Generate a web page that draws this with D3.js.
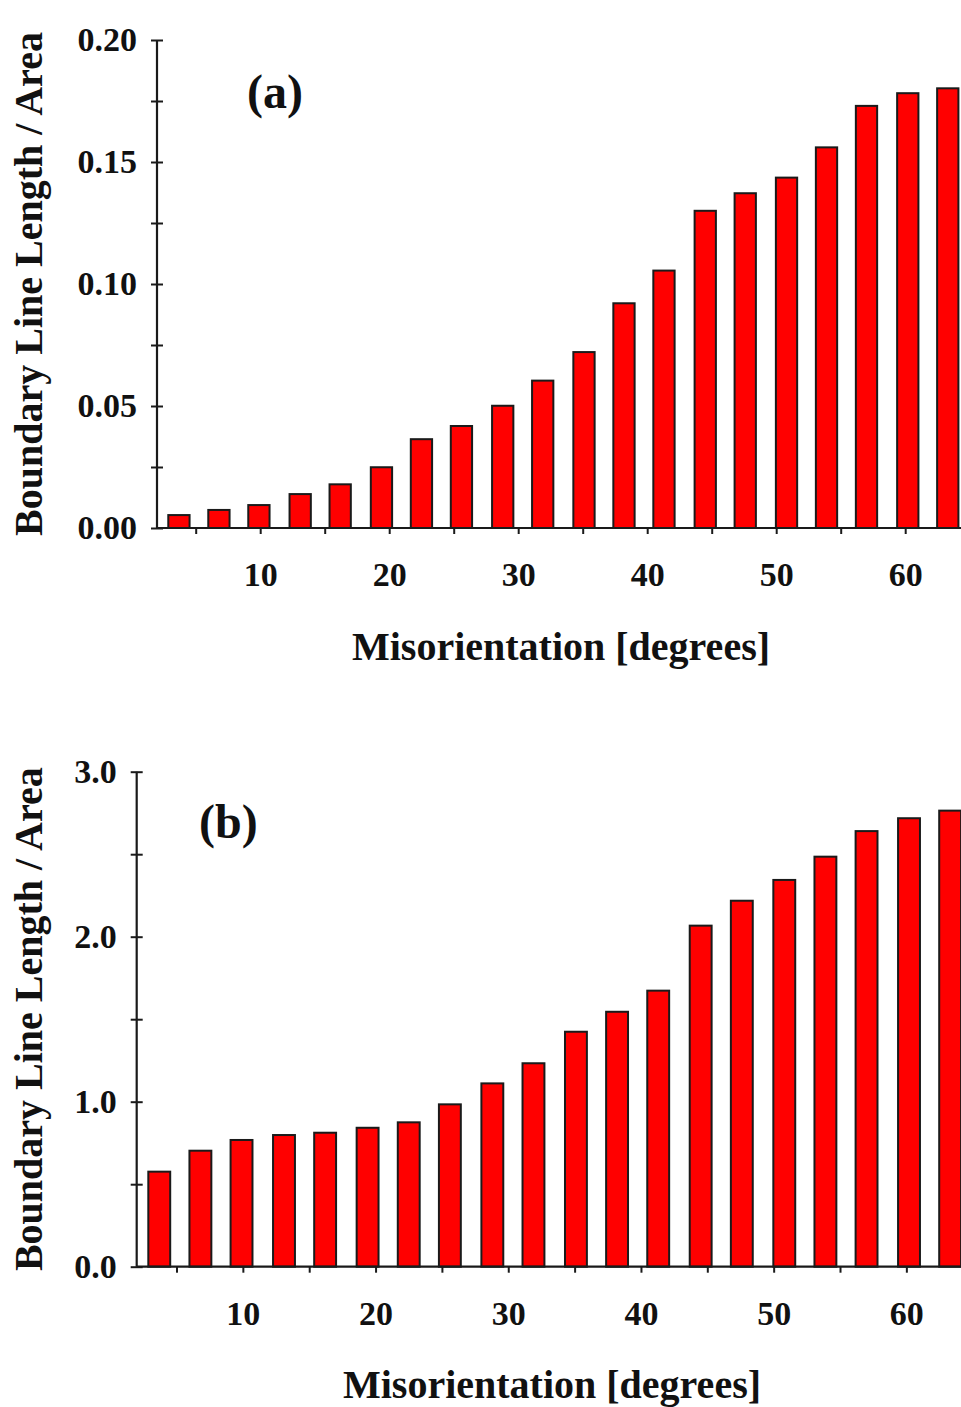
<!DOCTYPE html>
<html>
<head>
<meta charset="utf-8">
<script src="https://cdn.jsdelivr.net/npm/d3@7"></script>
<style>
  body { margin: 0; background: #fff; }
  svg text { font-family: "Liberation Serif", "Times New Roman", serif; font-weight: bold; fill: #111; }
</style>
</head>
<body>
<div id="graphic"></div>
<script>
// bin centres (degrees) and the two measured series
var misorientation = [3.7, 6.8, 9.9, 13.1, 16.2, 19.4, 22.5, 25.6, 28.8, 31.9,
                      35.1, 38.2, 41.3, 44.5, 47.6, 50.8, 53.9, 57.0, 60.2, 63.3];
var lengthA = [0.0053, 0.0074, 0.0094, 0.0139, 0.0179, 0.0249, 0.0364, 0.0418, 0.0501, 0.0604,
               0.0721, 0.0921, 0.1055, 0.130, 0.1372, 0.1436, 0.156, 0.173, 0.1782, 0.1802];
var lengthB = [0.576, 0.703, 0.768, 0.798, 0.812, 0.842, 0.875, 0.984, 1.111, 1.233,
               1.424, 1.545, 1.673, 2.067, 2.218, 2.344, 2.485, 2.64, 2.718, 2.764];

var xTicks = [10, 20, 30, 40, 50, 60];
var xMinor = [5, 15, 25, 35, 45, 55, 65];
var yTicksA = [0, 0.05, 0.10, 0.15, 0.20];
var yMinorA = [0.025, 0.075, 0.125, 0.175];
var yTicksB = [0, 1, 2, 3];
var yMinorB = [0.5, 1.5, 2.5];

var svg = d3.select("#graphic").append("svg")
    .attr("width", 961)
    .attr("height", 1407);

function panel(opt) {
  var x = d3.scaleLinear().domain([2, 65]).range([opt.left, opt.left + 63 * opt.pxDeg]);
  var y = d3.scaleLinear().domain(opt.yDomain).range([opt.bottom, opt.top]);
  var g = svg.append("g");
  var barW = x(1.65) - x(0);

  // bars
  g.selectAll("rect.bar").data(opt.values).enter().append("rect")
      .attr("class", "bar")
      .attr("x", function(d, i) { return x(misorientation[i]) - barW / 2; })
      .attr("y", function(d) { return y(d); })
      .attr("width", barW)
      .attr("height", function(d) { return y(0) - y(d); })
      .attr("fill", "#ff0000")
      .attr("stroke", "#1a1a1a")
      .attr("stroke-width", 2);

  // x axis
  var xAxis = g.append("g").attr("transform", "translate(0," + y(0) + ")")
      .call(d3.axisBottom(x).tickValues(xTicks).tickSize(6).tickPadding(opt.xPad));
  g.append("g").attr("transform", "translate(0," + y(0) + ")")
      .call(d3.axisBottom(x).tickValues(xMinor).tickSize(6).tickFormat(""))
      .select(".domain").remove();

  // y axis
  var yAxis = g.append("g").attr("transform", "translate(" + opt.left + ",0)")
      .call(d3.axisLeft(y).tickValues(opt.yTicks).tickSize(6).tickPadding(opt.yPad).tickFormat(opt.fmt));
  var yMin = g.append("g").attr("transform", "translate(" + opt.left + ",0)")
      .call(d3.axisLeft(y).tickValues(opt.yMinor).tickSize(6).tickFormat(""));
  yMin.select(".domain").remove();
  yAxis.selectAll(".tick line").attr("x1", 6);
  yMin.selectAll(".tick line").attr("x1", 6);

  g.selectAll(".domain").attr("stroke", "#1a1a1a").attr("stroke-width", 2.2);
  g.selectAll(".tick line").attr("stroke", "#1a1a1a").attr("stroke-width", 2);
  g.selectAll(".tick text").style("font-size", "34px").attr("fill", "#111");
  // x axis domain drawn without end caps
  xAxis.select(".domain").attr("d", "M" + opt.left + ",0H961");
  yAxis.select(".domain").attr("d", "M0," + y(opt.yDomain[1]) + "V" + y(0));

  // titles
  g.append("text")
      .attr("x", opt.xTitleX).attr("y", opt.xTitleY)
      .attr("text-anchor", "middle")
      .style("font-size", "40px")
      .text("Misorientation [degrees]");
  g.append("text")
      .attr("transform", "translate(42," + (y(0) + y(opt.yDomain[1])) / 2 + ") rotate(-90)")
      .attr("text-anchor", "middle")
      .style("font-size", "40px")
      .text("Boundary Line Length / Area");
  g.append("text")
      .attr("x", opt.tagX).attr("y", opt.tagY)
      .style("font-size", "48px")
      .text(opt.tag);
}

panel({
  left: 157, pxDeg: 12.9, top: 40, bottom: 528,
  yDomain: [0, 0.2], values: lengthA,
  yTicks: yTicksA, yMinor: yMinorA, fmt: d3.format(".2f"),
  xPad: 28, yPad: 14,
  xTitleX: 561, xTitleY: 660,
  tag: "(a)", tagX: 247, tagY: 108
});

panel({
  left: 136.7, pxDeg: 13.27, top: 771.7, bottom: 1266.7,
  yDomain: [0, 3], values: lengthB,
  yTicks: yTicksB, yMinor: yMinorB, fmt: d3.format(".1f"),
  xPad: 28, yPad: 14,
  xTitleX: 552, xTitleY: 1398,
  tag: "(b)", tagX: 199, tagY: 838
});
</script>
</body>
</html>
